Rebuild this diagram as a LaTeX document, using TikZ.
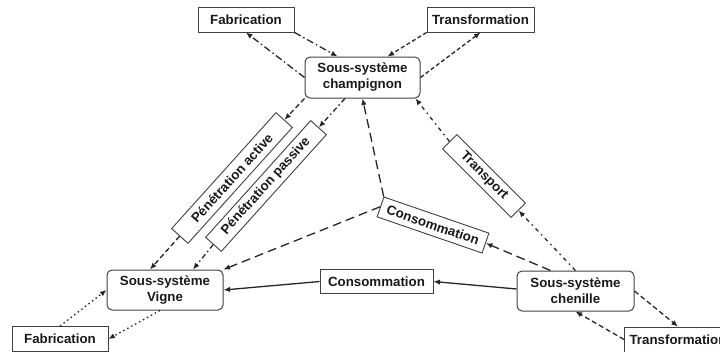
\documentclass[tikz,border=0pt]{standalone}
\usepackage{fontspec}
\setmainfont{Liberation Sans}
\usetikzlibrary{arrows.meta}
\begin{document}
\begin{tikzpicture}[x=1pt,y=-1pt,
  every node/.style={font=\fontsize{13.3}{16}\selectfont\bfseries, text=black!90, inner sep=0pt, align=center},
  sysbox/.style={draw=black!75, line width=1pt, rounded corners=5pt, minimum width=115pt, minimum height=41pt},
  actbox/.style={draw=black!75, line width=0.9pt, minimum height=25pt},
  labbox/.style={draw=black!75, line width=0.9pt, fill=white, minimum height=21pt},
  conn/.style={line width=1.3pt, draw=black!85, -{Latex[length=6.5pt,width=5.5pt]}},
  dashdotlong/.style={dash pattern=on 7pt off 3pt on 1.5pt off 3pt},
  dashshort/.style={dash pattern=on 4pt off 2.5pt},
  dashmed/.style={dash pattern=on 5pt off 3pt},
  dashlong/.style={dash pattern=on 9pt off 5pt},
  dashdotmed/.style={dash pattern=on 5pt off 3pt on 1.5pt off 3pt},
  dashdottr/.style={dash pattern=on 4pt off 4pt on 1.5pt off 4pt},
  dotline/.style={dash pattern=on 1.5pt off 3pt},
]
\useasboundingbox (0,0) rectangle (720,351);

% system nodes
\node[sysbox] (champ) at (362.5,77.5) {Sous-système\\champignon};
\node[sysbox, minimum width=116pt, minimum height=40pt] (vigne) at (165,290) {Sous-système\\Vigne};
\node[sysbox, minimum width=117pt, minimum height=40pt] (chen) at (575.5,291) {Sous-système\\chenille};

% activity boxes
\node[actbox, minimum width=96pt] (fabT) at (246,19.5) {Fabrication};
\node[actbox, minimum width=107pt] (traT) at (480.5,19.5) {Transformation};
\node[actbox, minimum width=96pt] (fabB) at (60,339) {Fabrication};
\node[actbox, minimum width=107pt] (traB) at (678,339.5) {Transformation};
\node[actbox, minimum width=113pt, minimum height=24pt] (consB) at (376.5,281.5) {Consommation};

% rotated label boxes
\node[labbox, minimum width=111pt, rotate=-19] (consM) at (433,225) {Consommation};
\node[labbox, minimum width=97pt, minimum height=20pt, rotate=-45] (transp) at (484,176) {Transport};
\node[labbox, minimum width=156pt, minimum height=22pt, rotate=48] (penA) at (232,178) {Pénétration active};
\node[labbox, minimum width=157pt, rotate=48] (penP) at (266,186) {Pénétration passive};

% top Fabrication
\draw[conn, dashdotlong] (fabT.south east) -- ([xshift=-25pt]champ.north);
\draw[conn, dashdotlong] (champ.west) -- (fabT.south);
% top Transformation
\draw[conn, dashshort] (traT.south west) -- ([xshift=25pt]champ.north);
\draw[conn, dashshort] (champ.east) -- (traT.south);
% penetration active
\draw[conn, dashmed] (champ.south west) -- (penA.east);
\draw[conn, dashmed] (penA.west) -- ([xshift=-15pt]vigne.north);
% penetration passive
\draw[conn, dashdotmed] ([xshift=-17.5pt]champ.south) -- (penP.east);
\draw[conn, dashdotmed] (penP.west) -- ([xshift=28pt]vigne.north);
% middle consommation
\draw[conn, dashlong] ([xshift=-25pt]chen.north) -- (consM.east);
\draw[conn, dashlong] (consM.north west) -- (champ.south);
\draw[conn, dashlong] (consM.west) -- (vigne.north east);
% transport
\draw[conn, dashdottr] (chen.north) -- (transp.east);
\draw[conn, dashdottr] (transp.west) -- ([xshift=-5pt]champ.south east);
% bottom consommation
\draw[conn] ([yshift=2pt]chen.west) -- (consB.east);
\draw[conn] (consB.west) -- (vigne.east);
% bottom Fabrication
\draw[conn, dotline] (fabB.north) -- (vigne.west);
\draw[conn, dotline] ([xshift=-5pt]vigne.south) -- (fabB.east);
% bottom Transformation
\draw[conn, dashmed] (chen.east) -- (traB.north);
\draw[conn, dashmed] (traB.west) -- (chen.south);
\end{tikzpicture}
\end{document}
